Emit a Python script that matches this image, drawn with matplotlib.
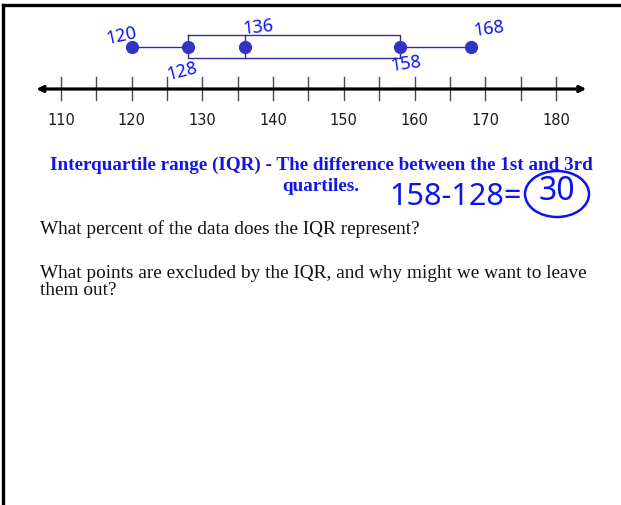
import matplotlib.pyplot as plt
from matplotlib.lines import Line2D
from matplotlib.patches import Ellipse

W, H = 621, 506

# five number summary
five_num = [120, 128, 136, 158, 168]
hand_labels = ["120", "128", "136", "158", "168"]
tick_values = list(range(110, 181, 5))
tick_labels = [str(v) for v in range(110, 181, 10)]

title_line1 = "Interquartile range (IQR) - The difference between the 1st and 3rd"
title_line2 = "quartiles."
question1 = "What percent of the data does the IQR represent?"
question2 = "What points are excluded by the IQR, and why might we want to leave\nthem out?"
calc_text = "158-128="
iqr_text = "30"


def px(x, y):
    # pixel position -> figure fraction
    return x / W, 1 - y / H


fig = plt.figure(figsize=(W / 100, H / 100), dpi=100)
ax = fig.add_axes([0, 0, 1, 1])
ax.set_xlim(101.37, 189.2)
ax.set_ylim(H, 0)
ax.axis("off")

blue_hand = "#0a14f0"
box_col = "#2e2e9c"
dot_col = "#3434c4"

# frame lines
fig.add_artist(Line2D([3 / W, 1], [1 - 6 / H] * 2, color="black", lw=2.4))
fig.add_artist(Line2D([3 / W, 3 / W], [1 - 6 / H, 0], color="black", lw=2.4))

# number line
y_axis = 90
ax.annotate("", xy=(184.3, y_axis), xytext=(106.5, y_axis),
            arrowprops=dict(arrowstyle="<|-|>", color="black", lw=2.3,
                            mutation_scale=9, shrinkA=0, shrinkB=0))
for v in tick_values:
    ax.plot([v, v], [78, 101], color="#4a4a4a", lw=1.0)
for lab in tick_labels:
    ax.text(int(lab), 120, lab, ha="center", va="center", fontsize=10.5,
            color="#1a1a1a", family="DejaVu Sans")

# box plot
mn, q1, med, q3, mx = five_num
box_top, box_bot, mid = 36, 59, 47.5
ax.plot([q1, q3, q3, q1, q1], [box_top, box_top, box_bot, box_bot, box_top],
        color=box_col, lw=1.0)
ax.plot([med, med], [box_top, box_bot], color=box_col, lw=1.0)
ax.plot([mn, q1], [mid, mid], color=box_col, lw=1.0)
ax.plot([q3, mx], [mid, mid], color=box_col, lw=1.0)
ax.plot(five_num, [mid] * 5, "o", color=dot_col, ms=8.5, zorder=5)

# handwritten labels
hand_pos = {"120": (-1.5, 36, 12), "128": (-0.8, 71, 14), "136": (1.9, 27, 6),
            "158": (0.8, 64, 8), "168": (2.5, 29, 8)}
for v, lab in zip(five_num, hand_labels):
    dx, yy, rot = hand_pos[lab]
    ax.text(v + dx, yy, lab, ha="center", va="center", fontsize=13,
            color=blue_hand, family="Noto Sans", rotation=rot)

# definition
fig.text(*px(321, 165), title_line1, ha="center", va="center", fontsize=13.8,
         color="#1414e6", family="Liberation Serif", weight="bold")
fig.text(*px(321, 187), title_line2, ha="center", va="center", fontsize=13.8,
         color="#1414e6", family="Liberation Serif", weight="bold")

fig.text(*px(456, 197), calc_text, ha="center", va="center", fontsize=22,
         color=blue_hand, family="Noto Sans")
fig.text(*px(557, 192), iqr_text, ha="center", va="center", fontsize=23,
         color=blue_hand, family="Noto Sans")
fig.add_artist(Ellipse(px(557, 195), 64 / W, 46 / H, transform=fig.transFigure,
                       fill=False, edgecolor=blue_hand, lw=1.8))

# questions
fig.text(*px(40, 229), question1, ha="left", va="center", fontsize=13.9,
         color="#111111", family="Liberation Serif")
fig.text(*px(40, 282), question2, ha="left", va="center", fontsize=13.9,
         color="#111111", family="Liberation Serif", linespacing=0.95)

fig.savefig("out.png", dpi=100)
